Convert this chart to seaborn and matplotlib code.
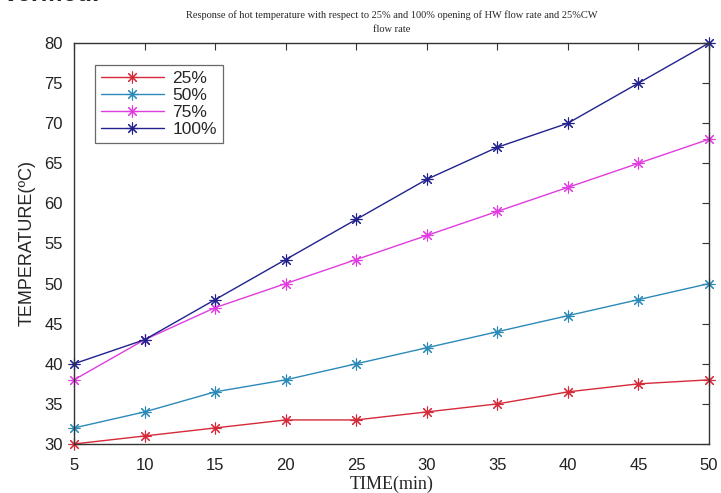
import matplotlib
matplotlib.use("Agg")
import matplotlib.pyplot as plt
import pandas as pd
import seaborn as sns

time_min = [5, 10, 15, 20, 25, 30, 35, 40, 45, 50]
temp_25 = [30, 31, 32, 33, 33, 34, 35, 36.5, 37.5, 38]
temp_50 = [32, 34, 36.5, 38, 40, 42, 44, 46, 48, 50]
temp_75 = [38, 43, 47, 50, 53, 56, 59, 62, 65, 68]
temp_100 = [40, 43, 48, 53, 58, 63, 67, 70, 75, 80]
openings = ["25%", "50%", "75%", "100%"]
x_ticks = list(range(5, 51, 5))
y_ticks = list(range(30, 81, 5))

series = dict(zip(openings, [temp_25, temp_50, temp_75, temp_100]))
df = pd.concat(
    [pd.DataFrame({"time": time_min, "temp": v, "opening": k}) for k, v in series.items()],
    ignore_index=True,
)

palette = {"25%": "#d42a3a", "50%": "#2b8ab8", "75%": "#e03ce0", "100%": "#22228f"}
asterisk = (8, 2, 0)

sns.set_style("white")
plt.rcParams["font.family"] = ["Liberation Sans", "DejaVu Sans"]

fig = plt.figure(figsize=(7.21, 4.93), dpi=100)
ax = fig.add_axes([0.1026, 0.0994, 0.8808, 0.8134])

sns.lineplot(
    data=df, x="time", y="temp", hue="opening", hue_order=openings,
    palette=palette, style="opening", markers={k: asterisk for k in openings},
    dashes=False, markersize=8.5, markeredgewidth=0.8, linewidth=1.0, ax=ax,
    legend=False,
)
# seaborn paints marker edges white; use the line colour like MATLAB does
for line in ax.lines:
    line.set_markeredgecolor(line.get_color())
    line.set_clip_on(False)

ax.set_xlim(5, 50)
ax.set_ylim(30, 80)
ax.set_xticks(x_ticks)
ax.set_yticks(y_ticks)
ax.tick_params(direction="in", length=5, width=0.8, labelsize=12,
               top=True, right=True, color="#333333", labelcolor="#222222")
ax.tick_params(axis="x", pad=10)
ax.tick_params(axis="y", pad=8)
for s in ax.spines.values():
    s.set_color("#333333")
    s.set_linewidth(1.0)

ax.set_xlabel("TIME(min)", family=["Liberation Serif"], fontsize=13, labelpad=2)
ax.set_ylabel("TEMPERATURE(ºC)", fontsize=13, labelpad=6)
ax.set_title("Response of hot temperature with respect to 25% and 100% opening of HW flow rate and 25%CW\nflow rate",
             family=["Liberation Serif"], fontsize=7.5, pad=8, linespacing=1.7)

handles = [plt.Line2D([], [], color=palette[k], marker=asterisk, markersize=8.5,
                      markeredgewidth=0.8, markeredgecolor=palette[k], linewidth=1.0)
           for k in openings]
leg = ax.legend(handles, openings, loc="upper left", bbox_to_anchor=(0.033, 0.945),
                borderaxespad=0, frameon=True, fancybox=False, edgecolor="#444444",
                fontsize=12.5, handlelength=3.6, labelspacing=0.1, borderpad=0.35,
                handletextpad=0.5)
leg.get_frame().set_linewidth(0.9)

fig.text(0.005, 1 - 6 / 493, "verified.", fontsize=18, fontweight="bold", va="bottom", ha="left")

fig.savefig("out.png", dpi=100)
